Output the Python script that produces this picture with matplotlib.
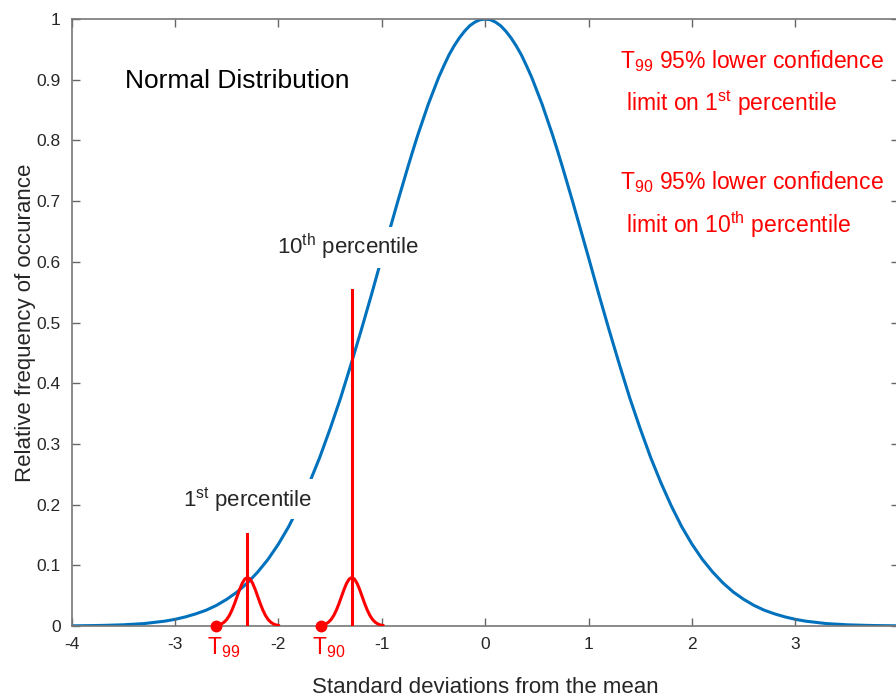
import numpy as np
import matplotlib
matplotlib.use("Agg")
import matplotlib.pyplot as plt

plt.rcParams['font.family'] = ['Liberation Sans', 'DejaVu Sans']
plt.rcParams['mathtext.fontset'] = 'custom'
plt.rcParams['mathtext.rm'] = 'Liberation Sans'
plt.rcParams['mathtext.it'] = 'Liberation Sans'
plt.rcParams['axes.unicode_minus'] = False

# values (finer spacing around the peak)
sd_x = np.round(np.concatenate([np.linspace(-4, -1.1, 30),
                                np.linspace(-1, 1, 41),
                                np.linspace(1.1, 4, 30)]), 2)
rel_freq = [0.0003, 0.0005, 0.0007, 0.001, 0.0015, 0.002, 0.003, 0.004, 0.006, 0.008,
            0.011, 0.015, 0.020, 0.026, 0.034, 0.044, 0.056, 0.071, 0.089, 0.110,
            0.135, 0.164, 0.198, 0.236, 0.278, 0.325, 0.375, 0.430, 0.487, 0.546,
            0.607, 0.637, 0.667, 0.697, 0.726, 0.755, 0.783, 0.810, 0.835, 0.860,
            0.882, 0.904, 0.923, 0.941, 0.956, 0.969, 0.980, 0.989, 0.995, 0.999,
            1.000,
            0.999, 0.995, 0.989, 0.980, 0.969, 0.956, 0.941, 0.923, 0.904, 0.882,
            0.860, 0.835, 0.810, 0.783, 0.755, 0.726, 0.697, 0.667, 0.637, 0.607,
            0.546, 0.487, 0.430, 0.375, 0.325, 0.278, 0.236, 0.198, 0.164, 0.135,
            0.110, 0.089, 0.071, 0.056, 0.044, 0.034, 0.026, 0.020, 0.015, 0.011,
            0.008, 0.006, 0.004, 0.003, 0.002, 0.0015, 0.001, 0.0007, 0.0005, 0.0003]

# small sampling distributions around each percentile
bump_offset = [-0.3, -0.275, -0.25, -0.225, -0.2, -0.175, -0.15, -0.125, -0.1, -0.075, -0.05, -0.025,
               0.0, 0.025, 0.05, 0.075, 0.1, 0.125, 0.15, 0.175, 0.2, 0.225, 0.25, 0.275, 0.3]
bump_height = [0.0009, 0.0018, 0.0035, 0.0064, 0.0108, 0.0173, 0.0260, 0.0366, 0.0485, 0.0604, 0.0706, 0.0775,
               0.0800, 0.0775, 0.0706, 0.0604, 0.0485, 0.0366, 0.0260, 0.0173, 0.0108, 0.0064, 0.0035, 0.0018, 0.0009]

pct_x = [-2.30, -1.29]
pct_line_top = [0.152, 0.553]
lcl_names = ['99', '90']
lcl_x = [-2.60, -1.59]

xtick_vals = [-4, -3, -2, -1, 0, 1, 2, 3, 4]
xtick_labels = ['-4', '-3', '-2', '-1', '0', '1', '2', '3', '']
ytick_vals = [0, 0.1, 0.2, 0.3, 0.4, 0.5, 0.6, 0.7, 0.8, 0.9, 1]
ytick_labels = ['0', '0.1', '0.2', '0.3', '0.4', '0.5', '0.6', '0.7', '0.8', '0.9', '1']

blue = '#0072BD'
red = '#FF0000'
txt = '#262626'

fig = plt.figure(figsize=(8.96, 7.0), dpi=100)
ax = fig.add_axes([0.080, 0.1057, 0.923, 0.867])

ax.plot(sd_x, rel_freq, color=blue, lw=2.2, zorder=1)

for i in range(2):
    ax.plot(pct_x[i] + np.array(bump_offset), bump_height, color=red, lw=2.2, zorder=3)
    ax.plot([pct_x[i], pct_x[i]], [0, pct_line_top[i]], color=red, lw=2.2, zorder=3)
    ax.plot(lcl_x[i], 0, 'o', color=red, ms=7.5, zorder=4, clip_on=False)
    ax.text(lcl_x[i] - 0.09, -0.046, r'T$_{%s}$' % lcl_names[i], color=red,
            fontsize=16.5, ha='left', va='baseline')

ax.set_xlim(-4, 4)
ax.set_ylim(0, 1)
ax.set_xticks(xtick_vals)
ax.set_xticklabels(xtick_labels)
ax.set_yticks(ytick_vals)
ax.set_yticklabels(ytick_labels)
ax.tick_params(direction='in', length=6, width=1, colors='#666666', labelcolor=txt,
               labelsize=12.5, top=True, right=True, pad=8)
for s in ax.spines.values():
    s.set_color('#777777')
    s.set_linewidth(1.2)

ax.set_xlabel('Standard deviations from the mean', fontsize=16, color=txt, labelpad=18)
ax.set_ylabel('Relative frequency of occurance', fontsize=16, color=txt, labelpad=0)

ax.text(-3.485, 0.898, 'Normal Distribution', fontsize=19, color='black', ha='left', va='center')

box = dict(facecolor='white', edgecolor='none', pad=4)
ax.text(-1.33, 0.624, r'10$^{\rm th}$ percentile', fontsize=16, color=txt,
        ha='center', va='center', bbox=box, zorder=2)
ax.text(-2.30, 0.209, r'1$^{\rm st}$ percentile', fontsize=16, color=txt,
        ha='center', va='center', bbox=box, zorder=2)

ax.text(1.305, 0.931, r'T$_{99}$ 95% lower confidence', fontsize=16.5, color=red, ha='left', va='center')
ax.text(1.36, 0.862, r'limit on 1$^{\rm st}$ percentile', fontsize=16.5, color=red, ha='left', va='center')
ax.text(1.305, 0.731, r'T$_{90}$ 95% lower confidence', fontsize=16.5, color=red, ha='left', va='center')
ax.text(1.36, 0.661, r'limit on 10$^{\rm th}$ percentile', fontsize=16.5, color=red, ha='left', va='center')

fig.savefig('out.png', dpi=100)
